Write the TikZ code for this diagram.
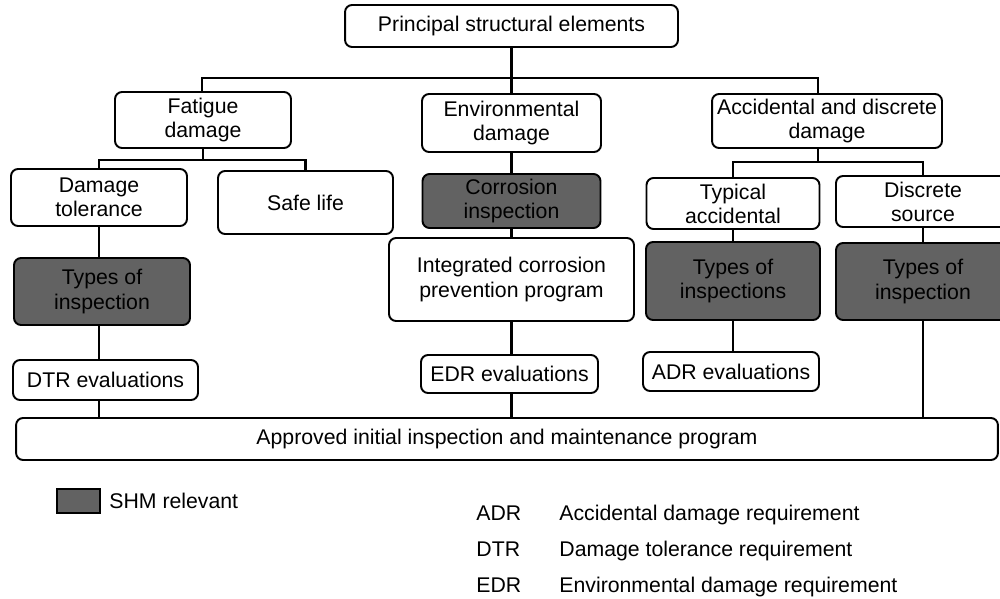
\documentclass[tikz,border=0pt]{standalone}
\usepackage{fontspec}
\setmainfont{Liberation Sans}
\usepackage{tikz}
\usetikzlibrary{positioning}
\usetikzlibrary{calc}
\definecolor{shmgray}{HTML}{626262}
\tikzset{
  elem/.style={draw, line width=1.1pt, rounded corners=0.14cm, align=center,
    inner sep=2pt, font=\fontsize{12.1}{13.7}\selectfont},
  shmbox/.style={elem, fill=shmgray},
  abbr/.style={anchor=base west, inner sep=0pt, font=\fontsize{12.1}{13.7}\selectfont}
}
\begin{document}
\begin{tikzpicture}[x=0.02cm, y=-0.02cm, line width=1.6pt]
    \useasboundingbox (0,0) rectangle (1000,598);

    % top level
    \node[elem, minimum width=6.66cm, minimum height=0.84cm] (prin) at (511.5,26) {Principal structural elements};

    \node[elem, minimum width=3.52cm, minimum height=1.12cm] (fat) at (203,120) {Fatigue\\damage};
    \node[elem, minimum width=3.58cm, minimum height=1.16cm] (env) at (511.5,123) {Environmental\\damage};
    \node[elem, minimum width=4.6cm, minimum height=1.08cm] (acc) at (827,121) {Accidental and discrete\\damage};

    % fatigue branch
    \node[elem, minimum width=3.52cm, minimum height=1.14cm] (dtol) at (99,197.5) {Damage\\tolerance};
    \node[elem, minimum width=3.5cm, minimum height=1.26cm] (safe) at (305.5,202.5) {Safe life};
    \node[shmbox, minimum width=3.52cm, minimum height=1.34cm] (insp1) at (102,291.5) {Types of\\inspection};
    \node[elem, minimum width=3.7cm, minimum height=0.8cm] (dtr) at (105.5,380) {DTR evaluations};

    % environmental branch
    \node[shmbox, minimum width=3.56cm, minimum height=1.08cm] (corr) at (511.5,201) {Corrosion\\inspection};
    \node[elem, minimum width=4.9cm, minimum height=1.66cm] (icpp) at (511.5,279.5) {Integrated corrosion\\prevention program};
    \node[elem, minimum width=3.54cm, minimum height=0.76cm] (edr) at (509.5,374) {EDR evaluations};

    % accidental branch
    \node[elem, minimum width=3.46cm, minimum height=1.02cm] (typ) at (733,203.5) {Typical\\accidental};
    \node[elem, minimum width=3.48cm, minimum height=1.02cm] (disc) at (923,201.5) {Discrete\\source};
    \node[shmbox, minimum width=3.48cm, minimum height=1.56cm] (insp3) at (733,281) {Types of\\inspections};
    \node[shmbox, minimum width=3.48cm, minimum height=1.54cm] (insp4) at (923,281.5) {Types of\\inspection};
    \node[elem, minimum width=3.52cm, minimum height=0.78cm] (adr) at (731,371.5) {ADR evaluations};

    \node[elem, minimum width=19.64cm, minimum height=0.84cm] (appr) at (507,439) {Approved initial inspection and maintenance program};

    \coordinate (busL) at (202,78);
    \coordinate (busR) at (818,78);
    \coordinate (fb) at (203,160);
    \coordinate (ab) at (818,162);

    \draw (prin) -- (env);
    \draw (fat.north -| busL) -- (busL) -- (busR) -- (busR |- acc.north);

    \draw (fat.south) -- (fb);
    \draw (dtol.north) |- (fb) -| (safe.north);
    \draw (dtol.south) -- (dtol.south |- insp1.north);
    \draw (insp1.south -| dtol.south) -- (dtol.south |- dtr.north);
    \draw (dtr.south -| dtol.south) -- (dtol.south |- appr.north);

    \draw (env) -- (corr);
    \draw (corr) -- (icpp);
    \draw (icpp.south) -- (icpp.south |- edr.north);
    \draw (edr.south -| icpp.south) -- (icpp.south |- appr.north);

    \draw (acc.south -| ab) -- (ab);
    \draw (typ.north) |- (ab) -| (disc.north);
    \draw (typ) -- (insp3);
    \draw (insp3.south) -- (insp3.south |- adr.north);
    \draw (disc) -- (insp4);
    \draw (insp4.south) -- (insp4.south |- appr.north);

    % legend
    \node[draw, line width=1.1pt, fill=shmgray, minimum width=0.86cm, minimum height=0.48cm, inner sep=0pt] (key) at (78.5,501) {};
    \node[anchor=west, inner sep=4pt, font=\fontsize{12.1}{13.7}\selectfont] (keytxt) at (key.east) {SHM relevant};

    \node[abbr] (adrk) at (475,520) {ADR};
    \node[abbr] (adrv) at (558,520) {Accidental damage requirement};
    \node[abbr] (dtrk) at (475,556) {DTR};
    \node[abbr] (dtrv) at (558,556) {Damage tolerance requirement};
    \node[abbr] (edrk) at (475,592) {EDR};
    \node[abbr] (edrv) at (558,592) {Environmental damage requirement};
\end{tikzpicture}
\end{document}
